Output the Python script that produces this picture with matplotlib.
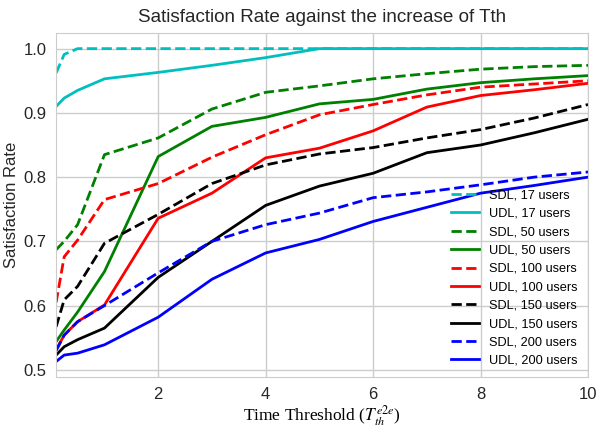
import matplotlib
matplotlib.use("Agg")
import matplotlib.pyplot as plt

# valores
Tth = [0.1, 0.25, 0.5, 1, 2, 3, 4, 5, 6, 7, 8, 9, 10]

sdl_17 = [0.962, 0.991, 1.0, 1.0, 1.0, 1.0, 1.0, 1.0, 1.0, 1.0, 1.0, 1.0, 1.0]
udl_17 = [0.910, 0.923, 0.935, 0.953, 0.963, 0.974, 0.986, 1.0, 1.0, 1.0, 1.0, 1.0, 1.0]
sdl_50 = [0.687, 0.700, 0.726, 0.835, 0.861, 0.906, 0.932, 0.942, 0.953, 0.961, 0.968, 0.972, 0.974]
udl_50 = [0.544, 0.562, 0.590, 0.653, 0.832, 0.879, 0.893, 0.914, 0.921, 0.937, 0.947, 0.953, 0.958]
sdl_100 = [0.605, 0.676, 0.702, 0.765, 0.790, 0.831, 0.866, 0.897, 0.913, 0.928, 0.940, 0.945, 0.950]
udl_100 = [0.531, 0.554, 0.575, 0.601, 0.736, 0.775, 0.830, 0.845, 0.872, 0.909, 0.927, 0.936, 0.946]
sdl_150 = [0.567, 0.609, 0.630, 0.697, 0.742, 0.790, 0.819, 0.836, 0.846, 0.861, 0.874, 0.892, 0.913]
udl_150 = [0.523, 0.536, 0.547, 0.565, 0.644, 0.700, 0.756, 0.786, 0.806, 0.838, 0.850, 0.869, 0.890]
sdl_200 = [0.530, 0.554, 0.575, 0.600, 0.651, 0.700, 0.726, 0.744, 0.768, 0.777, 0.788, 0.800, 0.808]
udl_200 = [0.513, 0.523, 0.526, 0.539, 0.582, 0.641, 0.682, 0.703, 0.731, 0.753, 0.775, 0.787, 0.800]

plt.rcParams['font.family'] = ['Liberation Sans', 'DejaVu Sans']
plt.rcParams['mathtext.fontset'] = 'stix'

fig = plt.figure(figsize=(5.97, 4.34), dpi=100)
ax = fig.add_axes([0.094, 0.131, 0.891, 0.793])

series = [
    (sdl_17, 'c', '--', 'SDL, 17 users'),
    (udl_17, 'c', '-', 'UDL, 17 users'),
    (sdl_50, 'g', '--', 'SDL, 50 users'),
    (udl_50, 'g', '-', 'UDL, 50 users'),
    (sdl_100, 'r', '--', 'SDL, 100 users'),
    (udl_100, 'r', '-', 'UDL, 100 users'),
    (sdl_150, 'k', '--', 'SDL, 150 users'),
    (udl_150, 'k', '-', 'UDL, 150 users'),
    (sdl_200, 'b', '--', 'SDL, 200 users'),
    (udl_200, 'b', '-', 'UDL, 200 users'),
]
for vals, col, ls, lab in series:
    ax.plot(Tth, vals, color=col, linestyle=ls, linewidth=2, label=lab)

ax.set_xlim(0.1, 10)
ax.set_xticks([2, 4, 6, 8, 10])
ax.set_yticks([0.5, 0.6, 0.7, 0.8, 0.9, 1.0])
ax.grid(True, color='#cccccc', linewidth=1)
for s in ax.spines.values():
    s.set_color('#cccccc')
ax.tick_params(length=0, labelsize=12, labelcolor='#262626', pad=7)

ax.set_title('Satisfaction Rate against the increase of Tth', fontsize=13.6, color='#262626', pad=8)
ax.set_ylabel('Satisfaction Rate', fontsize=12, color='#262626', labelpad=3)
ax.set_xlabel(r'Time Threshold ($T_{th}^{e2e}$)', fontsize=12.5, family='Liberation Serif', labelpad=1)

ax.legend(loc='lower right', frameon=False, fontsize=9.2, handlelength=2.2, labelspacing=0.5,
          borderaxespad=0.4)

fig.savefig('out.png', dpi=100)
